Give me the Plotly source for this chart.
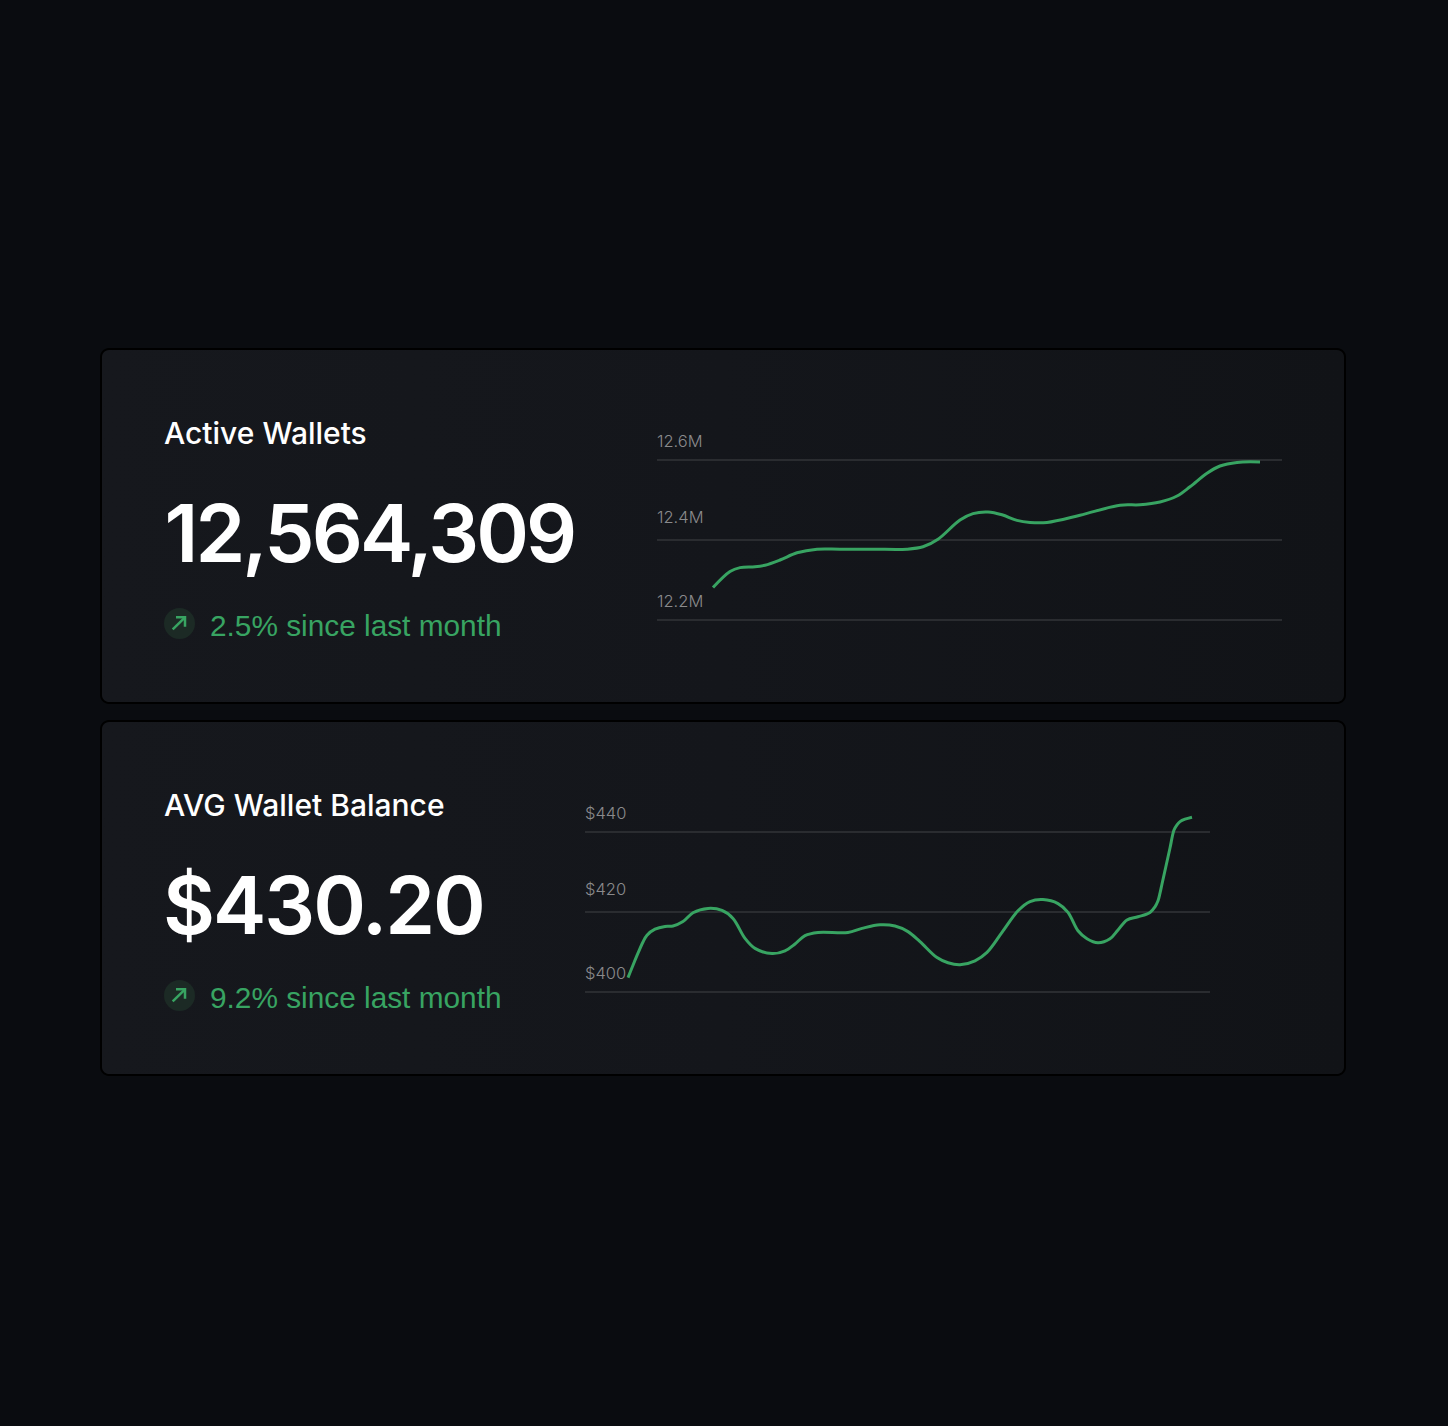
import numpy as np
import plotly.graph_objects as go

W, H = 1448, 1426
BG = "#0a0c10"
GREEN = "#38a462"
GRID = "#2a2c30"
TICKC = "#8a8a8c"

wallet_days = [56,73,83,98,108,123,140,160,183,216,250,266,281,303,316,331,345,360,373,390,423,463,483,503,520,533,550,563,580,603]
wallet_vals = [12.281,12.321,12.331,12.333,12.337,12.350,12.368,12.377,12.377,12.377,12.377,12.383,12.402,12.450,12.466,12.470,12.463,12.449,12.444,12.444,12.462,12.487,12.488,12.495,12.510,12.533,12.567,12.585,12.594,12.595]
wallet_ticks = [12.2, 12.4, 12.6]
wallet_labels = ["12.2M", "12.4M", "12.6M"]

balance_days = [43,48,53,58,62,70,80,88,98,108,123,137,148,160,170,187,200,210,220,233,263,277,295,310,323,335,352,363,375,390,402,417,433,445,458,473,483,493,502,513,525,533,542,553,565,570,573,575,577,581,585,589,592,595,600,607]
balance_vals = [403.6,406.7,409.7,412.5,414.2,415.7,416.4,416.5,417.6,419.8,420.9,420.4,418.4,413.4,410.9,409.6,410.3,412.0,414.1,414.9,414.9,415.9,416.8,416.5,415.1,412.6,408.6,407.3,406.8,407.8,409.9,414.9,420.3,422.6,423.1,422.1,419.9,415.3,413.3,412.3,413.3,415.5,418.0,418.8,419.9,421.3,422.8,424.7,427.0,431.5,436.0,440.5,441.8,442.6,443.2,443.7]
balance_ticks = [400, 420, 440]
balance_labels = ["$400", "$420", "$440"]

titles = ["Active Wallets", "AVG Wallet Balance"]
headline = ["12,564,309", "$430.20"]
deltas = ["2.5% since last month", "9.2% since last month"]

FONT = "Liberation Sans"


def px(x):
    return x / W


def py(y):
    return 1 - y / H


def rounded(x0, y0, x1, y1, r, n=8):
    xs, ys = [], []
    for cx, cy, a0 in [(x1 - r, y0 + r, -90), (x1 - r, y1 - r, 0), (x0 + r, y1 - r, 90), (x0 + r, y0 + r, 180)]:
        t = np.radians(np.linspace(a0, a0 + 90, n))
        xs += list(cx + r * np.cos(t))
        ys += list(cy + r * np.sin(t))
    return xs + xs[:1], ys + ys[:1]


fig = go.Figure()
cards = [(101, 349, 1345, 703), (101, 721, 1345, 1075)]
shapes = []
for c in cards:
    xs, ys = rounded(*c, 8)
    fig.add_trace(go.Scatter(x=xs, y=ys, mode="lines", line=dict(width=0), fill="toself",
                             fillgradient=dict(type="horizontal", colorscale=[[0, "#16181d"], [0.5, "#14161b"], [1, "#111317"]]),
                             xaxis="x", yaxis="y", hoverinfo="skip", showlegend=False))
    path = "M " + " L ".join(f"{px(a)} {py(b)}" for a, b in zip(xs, ys)) + " Z"
    shapes.append(dict(type="path", xref="paper", yref="paper", path=path, line=dict(color="#000000", width=2), layer="above"))

fig.add_trace(go.Scatter(x=wallet_days, y=wallet_vals, mode="lines", line=dict(color=GREEN, width=3, shape="spline", smoothing=1.0),
                         xaxis="x2", yaxis="y2", hoverinfo="skip", showlegend=False))
fig.add_trace(go.Scatter(x=balance_days, y=balance_vals, mode="lines", line=dict(color=GREEN, width=3, shape="spline", smoothing=1.0),
                         xaxis="x3", yaxis="y3", hoverinfo="skip", showlegend=False))

ann = []
for i, (off, hx) in enumerate([(0, 147.5), (372, 153.5)]):
    ann.append(dict(x=px(162), y=py(433 + off), xref="paper", yref="paper", text=titles[i], showarrow=False, xanchor="left", yanchor="middle",
                    font=dict(family="Inter", size=30, color="#ffffff", weight=500)))
    ann.append(dict(x=px(hx), y=py(532.5 + off), xref="paper", yref="paper", text=headline[i], showarrow=False, xanchor="left", yanchor="middle",
                    font=dict(family="Inter", size=80, color="#ffffff", weight=600)))
    ann.append(dict(x=px(208), y=py(625.5 + off), xref="paper", yref="paper", text=deltas[i], showarrow=False, xanchor="left", yanchor="middle",
                    font=dict(family=FONT, size=29.8, color=GREEN)))
    cx, cy = 179.5, 623.5 + off
    shapes.append(dict(type="circle", xref="paper", yref="paper", x0=px(cx - 15.5), x1=px(cx + 15.5), y0=py(cy + 15.5), y1=py(cy - 15.5),
                       fillcolor="#1c2a25", line=dict(width=0), layer="above"))
    shaft = [(cx - 6.8, cy + 5.8), (cx + 5.5, cy - 6.2)]
    head = [(cx - 3.5, cy - 6.2), (cx + 5.5, cy - 6.2), (cx + 5.5, cy + 3.2)]
    for seg in (shaft, head):
        shapes.append(dict(type="path", xref="paper", yref="paper",
                           path="M " + " L ".join(f"{px(a)} {py(b)}" for a, b in seg),
                           line=dict(color=GREEN, width=2.5), layer="above"))

for ticks, labels, xname, yname in [
    (wallet_ticks, wallet_labels, "x2", "y2"),
    (balance_ticks, balance_labels, "x3", "y3"),
]:
    for v, lab, s in zip(ticks, labels, [7, 11, 7]):
        ann.append(dict(x=0, y=v, xref=xname, yref=yname, text=lab, showarrow=False, xanchor="left", yanchor="bottom", xshift=-2, yshift=s,
                        font=dict(family="Inter", size=16.5, color=TICKC, weight=300)))


def grid_y(domain_top, domain_bot, lo, hi, ticks):
    return dict(domain=[py(domain_bot), py(domain_top)], range=[lo, hi], tickvals=ticks, showticklabels=False, ticks="",
                gridcolor=GRID, gridwidth=2, zeroline=False, showline=False, fixedrange=True)


def grid_x(a, b):
    return dict(domain=[px(a), px(b)], range=[0, b - a], visible=False, fixedrange=True)


hidden = dict(visible=False, fixedrange=True)
fig.update_layout(
    width=W, height=H, autosize=False, margin=dict(l=0, r=0, t=0, b=0, pad=0),
    paper_bgcolor=BG, plot_bgcolor="rgba(0,0,0,0)", showlegend=False, hovermode=False,
    xaxis=dict(domain=[0, 1], range=[0, W], **hidden),
    yaxis=dict(domain=[0, 1], range=[H, 0], **hidden),
    xaxis2=dict(anchor="y2", **grid_x(657, 1282)),
    yaxis2=dict(anchor="x2", **grid_y(440, 640, 12.15, 12.65, wallet_ticks)),
    xaxis3=dict(anchor="y3", **grid_x(585, 1210)),
    yaxis3=dict(anchor="x3", **grid_y(800, 1010, 395.5, 448, balance_ticks)),
    shapes=shapes, annotations=ann,
)

tighten = """
document.body.style.margin='0';
document.body.style.background='#0a0c10';
document.documentElement.style.overflow='hidden';
document.querySelectorAll('.annotation-text').forEach(function(t){
  if (t.textContent === '12,564,309') { t.style.letterSpacing = '-2.9px'; }
  if (t.textContent === '$430.20') { t.style.letterSpacing = '-2px'; }
});
"""
fig.write_html("out.html", config=dict(displayModeBar=False), post_script=tighten)
